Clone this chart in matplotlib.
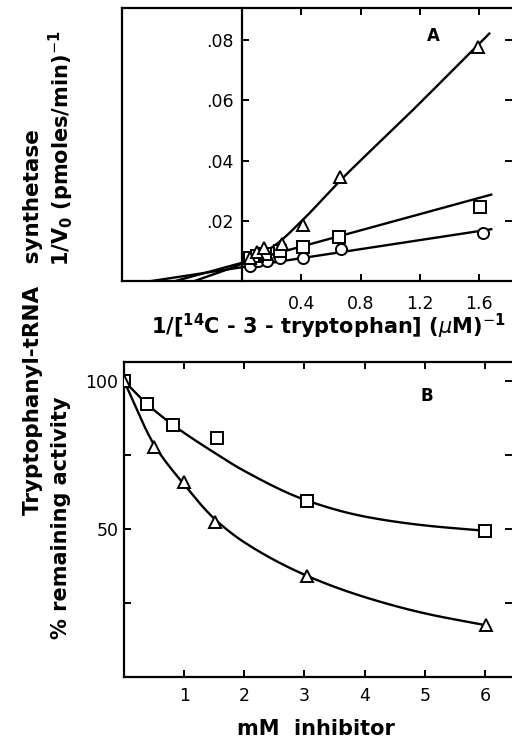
import numpy as np
import matplotlib
matplotlib.use("Agg")
import matplotlib.pyplot as plt
from matplotlib.ticker import FuncFormatter

plt.rcParams['font.family'] = ['DejaVu Sans']
plt.rcParams['mathtext.fontset'] = 'dejavusans'

# Panel A: Lineweaver-Burk, 1/[S] (uM^-1) vs 1/V0
a_tri_x = [0.054, 0.099, 0.148, 0.268, 0.413, 0.661, 1.593]
a_tri_y = [0.0078, 0.0097, 0.0111, 0.0124, 0.0187, 0.0347, 0.0778]
a_sq_x = [0.054, 0.099, 0.155, 0.256, 0.413, 0.650, 1.605]
a_sq_y = [0.0077, 0.0083, 0.0091, 0.0100, 0.0113, 0.0147, 0.0247]
a_ci_x = [0.054, 0.110, 0.166, 0.256, 0.413, 0.665, 1.623]
a_ci_y = [0.0051, 0.0067, 0.0068, 0.0076, 0.0076, 0.0106, 0.0158]

# fitted lines as drawn (endpoints)
a_ci_line_x = [-0.61, 1.68]
a_ci_line_y = [0.0, 0.0172]
a_sq_line_x = [-0.45, 1.68]
a_sq_line_y = [0.0, 0.0287]
a_tri_curve_x = [-0.32, 0.0, 0.12, 0.225, 0.413, 0.66, 1.11, 1.667]
a_tri_curve_y = [0.0, 0.0058, 0.0088, 0.0120, 0.0205, 0.0333, 0.0548, 0.0822]

# Panel B: % remaining activity vs mM inhibitor
b_sq_x = [0, 0.39, 0.81, 1.54, 3.04, 6.0]
b_sq_y = [100, 92.1, 85.2, 80.8, 59.6, 49.2]
b_tri_x = [0, 0.5, 0.99, 1.52, 3.04, 6.01]
b_tri_y = [100, 77.7, 65.8, 52.3, 34.2, 17.5]

b_sq_curve_x = [0, 0.39, 0.81, 1.5, 2.0, 3.04, 4.0, 5.0, 6.0]
b_sq_curve_y = [100, 92.1, 85.2, 75.8, 69.6, 59.6, 54.2, 51.2, 49.4]
b_tri_curve_x = [0, 0.5, 1.0, 1.5, 2.0, 3.04, 4.0, 5.0, 6.01]
b_tri_curve_y = [100, 78.5, 65.0, 53.5, 45.5, 34.2, 27.0, 21.5, 17.5]

A_XLIM = (-0.81, 1.82)
A_YLIM = (0, 0.0907)
B_XLIM = (0, 6.45)
B_YLIM = (0, 106.4)


def pchip(xs, ys, n=300):
    """Monotone cubic (Fritsch-Carlson) through the knots."""
    x = np.asarray(xs, float)
    y = np.asarray(ys, float)
    h = np.diff(x)
    d = np.diff(y) / h
    m = np.zeros_like(x)
    for k in range(1, len(x) - 1):
        if d[k - 1] * d[k] > 0:
            w1 = 2 * h[k] + h[k - 1]
            w2 = h[k] + 2 * h[k - 1]
            m[k] = (w1 + w2) / (w1 / d[k - 1] + w2 / d[k])
    m[0] = d[0]
    m[-1] = d[-1]
    xx = np.linspace(x[0], x[-1], n)
    i = np.clip(np.searchsorted(x, xx) - 1, 0, len(x) - 2)
    t = (xx - x[i]) / h[i]
    h00 = 2 * t**3 - 3 * t**2 + 1
    h10 = t**3 - 2 * t**2 + t
    h01 = -2 * t**3 + 3 * t**2
    h11 = t**3 - t**2
    yy = h00 * y[i] + h10 * h[i] * m[i] + h01 * y[i + 1] + h11 * h[i] * m[i + 1]
    return xx, yy


LW = 1.7
mk = dict(ls='none', mfc='white', mec='black', mew=1.4, ms=8, zorder=3)
lbl = dict(fontsize=15, fontweight='bold')
tickfont = 12.5
W, H = 512, 741

fig = plt.figure(figsize=(5.12, 7.41), dpi=100)

# ---- panel A ----
axA = fig.add_axes([122 / W, 1 - 281 / H, 390 / W, 273 / H])
axA.plot(a_ci_line_x, a_ci_line_y, 'k-', lw=LW)
axA.plot(a_sq_line_x, a_sq_line_y, 'k-', lw=LW)
cx, cy = pchip(a_tri_curve_x, a_tri_curve_y)
axA.plot(cx, cy, 'k-', lw=LW)
axA.plot(a_ci_x, a_ci_y, marker='o', **mk)
axA.plot(a_sq_x, a_sq_y, marker='s', **mk)
axA.plot(a_tri_x, a_tri_y, marker='^', **mk)
axA.set_xlim(*A_XLIM)
axA.set_ylim(*A_YLIM)
axA.spines['left'].set_position(('data', 0))
axA.spines['right'].set_visible(False)
axA.axvline(A_XLIM[0], color='black', lw=1.6, clip_on=False)
for s in ['left', 'top', 'bottom']:
    axA.spines[s].set_linewidth(1.6)
axA.set_xticks([0.4, 0.8, 1.2, 1.6])
axA.set_yticks([0.02, 0.04, 0.06, 0.08])
axA.yaxis.set_major_formatter(FuncFormatter(lambda v, p: f"{v:.2f}".lstrip('0')))
axA.tick_params(direction='in', length=5, width=1.4, top=True, right=True,
                labelsize=tickfont)
axA.tick_params(axis='x', pad=10)
axA.tick_params(axis='y', pad=6)
axA.text(1.29, 0.0815, 'A', fontsize=12, fontweight='bold', ha='center', va='center')

# ---- panel B ----
axB = fig.add_axes([124 / W, 1 - 677 / H, 388 / W, 315 / H])
sx, sy = pchip(b_sq_curve_x, b_sq_curve_y)
tx, ty = pchip(b_tri_curve_x, b_tri_curve_y)
axB.plot(sx, sy, 'k-', lw=LW)
axB.plot(tx, ty, 'k-', lw=LW)
axB.plot(b_sq_x, b_sq_y, marker='s', **mk)
axB.plot(b_tri_x, b_tri_y, marker='^', **mk)
axB.set_xlim(*B_XLIM)
axB.set_ylim(*B_YLIM)
axB.spines['right'].set_visible(False)
for s in ['left', 'top', 'bottom']:
    axB.spines[s].set_linewidth(1.6)
axB.set_xticks([1, 2, 3, 4, 5, 6])
axB.set_yticks([25, 50, 75, 100])
axB.set_yticklabels(['', '50', '', '100'])
axB.tick_params(direction='in', length=5, width=1.4, top=True, right=True,
                labelsize=tickfont, pad=4)
axB.tick_params(axis='x', pad=7)
axB.text(5.03, 94.8, 'B', fontsize=12, fontweight='bold', ha='center', va='center')

# ---- axis titles ----
fig.text(328 / W, 1 - 326 / H,
         r'1/[$^{\mathbf{14}}$C - 3 - tryptophan] ($\mu$M)$^{-\mathbf{1}}$',
         ha='center', va='center', **lbl)
fig.text(316 / W, 1 - 729 / H, 'mM  inhibitor', ha='center', va='center', **lbl)
fig.text(61 / W, 1 - 148 / H, r'1/V$_\mathbf{0}$ (pmoles/min)$^{-\mathbf{1}}$',
         rotation=90, ha='center', va='center', **lbl)
fig.text(61 / W, 1 - 518 / H, '% remaining activity', rotation=90,
         ha='center', va='center', **lbl)
fig.text(33 / W, 1 - 322 / H, 'Tryptophanyl-tRNA   synthetase', rotation=90,
         ha='center', va='center', fontsize=15.5, fontweight='bold')

fig.savefig('out.png', dpi=100)
